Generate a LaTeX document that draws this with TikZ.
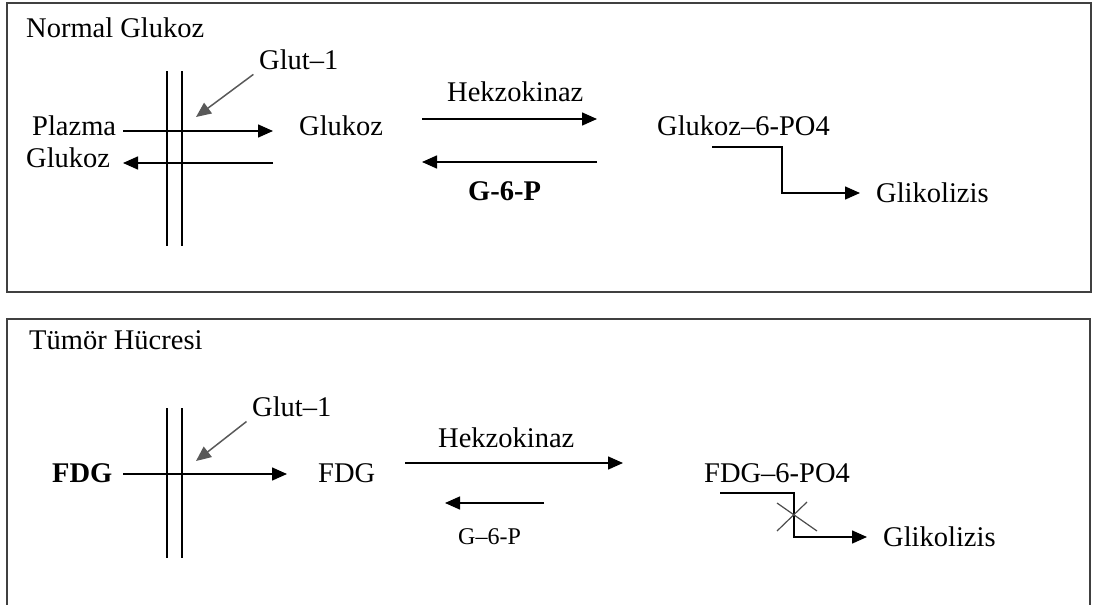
\documentclass[tikz,border=0pt]{standalone}
\usepackage{fontspec}
\setmainfont{Liberation Serif}
\usetikzlibrary{arrows.meta}
\begin{document}
\begin{tikzpicture}[x=1pt, y=-1pt,
    lbl/.style={inner sep=0pt, anchor=west, font=\fontsize{28.5}{34}\selectfont},
    blbl/.style={lbl, font=\fontsize{28.5}{34}\selectfont\bfseries},
    slbl/.style={lbl, font=\fontsize{24}{28}\selectfont},
    rx/.style={-{Triangle[length=15pt, width=13pt]}, line width=1.5pt},
    gx/.style={rx, gray!70!black},
    mem/.style={line width=1.6pt},
    frame/.style={line width=2pt, black!75}
]
\useasboundingbox (0,0) rectangle (1095,605);

% panel frames
\draw[frame] (7,3) rectangle (1091,292);
\draw[frame] (7,610) -- (7,319) -- (1090,319) -- (1090,610);

% normal glucose
\node[lbl] (ttl1) at (26,28) {Normal Glukoz};
\draw[mem] (167,71) -- (167,246);
\draw[mem] (182,71) -- (182,246);
\node[lbl] (glut1) at (259,60) {Glut--1};
\coordinate (gt1) at (196,117);
\draw[gx, shorten <=7pt] (glut1.south west) -- (gt1);
\node[lbl] (plz) at (32,126) {Plazma};
\node[lbl] (glkout) at (26,158) {Glukoz};
\node[lbl] (glkin) at (299,126) {Glukoz};
\coordinate (a1) at (123,131);
\coordinate (a2) at (273,131);
\coordinate (b1) at (273,163);
\coordinate (b2) at (123,163);
\draw[rx] (a1) -- (a2);
\draw[rx] (b1) -- (b2);
\node[lbl] (hk1) at (447,92) {Hekzokinaz};
\coordinate (h1) at (422,119);
\coordinate (h2) at (597,119);
\coordinate (r1) at (597,162);
\coordinate (r2) at (422,162);
\draw[rx] (h1) -- (h2);
\draw[rx] (r1) -- (r2);
\node[blbl] (gp1) at (468,191) {G-6-P};
\node[lbl] (g6p) at (657,126) {Glukoz--6-PO4};
\node[lbl] (gli1) at (876,193) {Glikolizis};
\coordinate (e1) at (712,147);
\draw[rx] (e1) -| (782,193) -- ([xshift=-16pt]gli1.west);

% tumour cell
\node[lbl] (ttl2) at (29,340) {Tümör Hücresi};
\draw[mem] (167,408) -- (167,558);
\draw[mem] (182,408) -- (182,558);
\node[lbl] (glut2) at (252,407) {Glut--1};
\coordinate (gt2) at (196,461);
\draw[gx, shorten <=7pt] (glut2.south west) -- (gt2);
\node[blbl] (fdgout) at (52,473) {FDG};
\node[lbl] (fdgin) at (318,473) {FDG};
\coordinate (f1) at (123,474);
\coordinate (f2) at (287,474);
\draw[rx] (f1) -- (f2);
\node[lbl] (hk2) at (438,438) {Hekzokinaz};
\coordinate (k1) at (405,463);
\coordinate (k2) at (623,463);
\coordinate (s1) at (544,503);
\coordinate (s2) at (445,503);
\draw[rx] (k1) -- (k2);
\draw[rx] (s1) -- (s2);
\node[slbl] (gp2) at (458,537) {G--6-P};
\node[lbl] (f6p) at (704,473) {FDG--6-PO4};
\node[lbl] (gli2) at (883,537) {Glikolizis};
\coordinate (e2) at (720,493);
\draw[rx] (e2) -| (794,537) -- ([xshift=-16pt]gli2.west);
% blocked step
\draw[line width=1.2pt, gray!60!black] (777,503) -- (817,531);
\draw[line width=1.2pt, gray!60!black] (777,531) -- (807,502);
\end{tikzpicture}
\end{document}
